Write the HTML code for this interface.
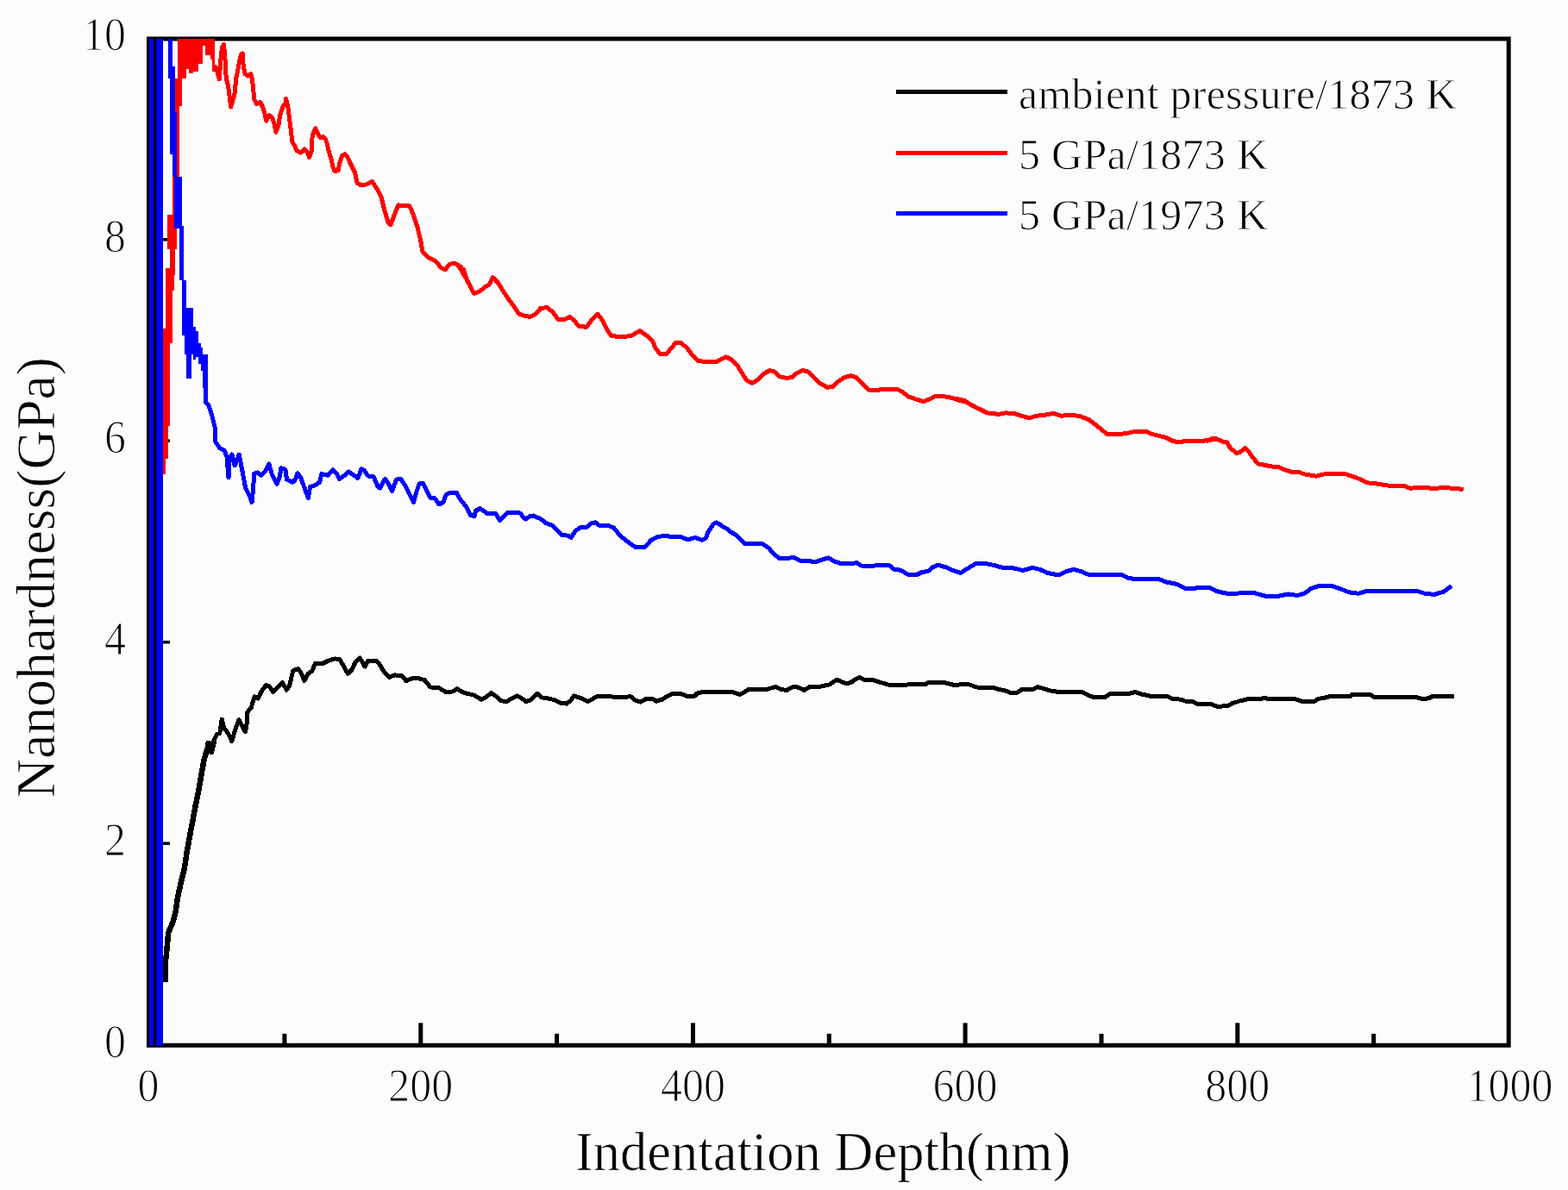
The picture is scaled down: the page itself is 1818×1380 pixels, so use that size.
<!DOCTYPE html>
<html><head><meta charset="utf-8"><style>
html,body{margin:0;padding:0;background:#fcfcfd;overflow:hidden;width:1818px;height:1380px;}
svg{display:block;}
text{font-family:"Liberation Serif","Times New Roman",serif;fill:#000;}
</style></head><body>
<svg width="1818" height="1380" viewBox="0 0 1818 1380">
<defs><clipPath id="pc"><rect x="172.5" y="44.6" width="1576.7" height="1167.9"/></clipPath></defs>
<rect width="1818" height="1380" fill="#fcfcfd"/>
<g stroke="#000" stroke-width="5">
<path d="M172.5,1212.3 L172.5,45.0 L1749.2,45.0 L1749.2,1212.3 Z" fill="none" stroke-linejoin="miter"/>
<line x1="329.9" y1="1212.3" x2="329.9" y2="1198.8"/><line x1="487.8" y1="1212.3" x2="487.8" y2="1186.3"/><line x1="645.6" y1="1212.3" x2="645.6" y2="1198.8"/><line x1="803.5" y1="1212.3" x2="803.5" y2="1186.3"/><line x1="961.3" y1="1212.3" x2="961.3" y2="1198.8"/><line x1="1119.1" y1="1212.3" x2="1119.1" y2="1186.3"/><line x1="1277.0" y1="1212.3" x2="1277.0" y2="1198.8"/><line x1="1434.8" y1="1212.3" x2="1434.8" y2="1186.3"/><line x1="1592.7" y1="1212.3" x2="1592.7" y2="1198.8"/><line x1="172.5" y1="1094.9" x2="184.5" y2="1094.9" stroke-width="3.5"/><line x1="172.5" y1="978.1" x2="197.0" y2="978.1" stroke-width="3.5"/><line x1="172.5" y1="861.4" x2="184.5" y2="861.4" stroke-width="3.5"/><line x1="172.5" y1="744.7" x2="197.0" y2="744.7" stroke-width="3.5"/><line x1="172.5" y1="627.9" x2="184.5" y2="627.9" stroke-width="3.5"/><line x1="172.5" y1="511.2" x2="197.0" y2="511.2" stroke-width="3.5"/><line x1="172.5" y1="394.5" x2="184.5" y2="394.5" stroke-width="3.5"/><line x1="172.5" y1="277.8" x2="197.0" y2="277.8" stroke-width="3.5"/><line x1="172.5" y1="161.0" x2="184.5" y2="161.0" stroke-width="3.5"/>
</g>
<g clip-path="url(#pc)" shape-rendering="crispEdges">
<g fill="none" stroke-linejoin="round" stroke-linecap="butt">
<path d="M191.5,1138.7 L191.5,1116.5 L192.6,1110.0 L195.2,1081.7 L200.7,1068.7 L203.9,1055.7 L206.1,1040.4 L210.4,1020.9 L213.7,1007.8 L217.0,986.1 L220.2,968.7 L223.5,951.3 L226.7,933.9 L230.0,918.7 L233.3,899.1 L236.5,881.7 L240.9,866.5 L241.6,862.1 L244.9,872.0 L248.2,858.8 L251.5,851.4 L254.8,850.6 L257.2,834.1 L259.7,844.0 L264.7,850.6 L268.8,859.6 L272.1,848.1 L277.0,834.9 L280.3,840.7 L284.5,848.9 L286.1,839.0 L286.9,825.8 L291.1,820.9 L295.2,807.7 L299.3,810.1 L302.6,802.7 L308.4,794.5 L312.5,796.1 L316.6,802.7 L320.8,798.6 L327.4,791.2 L332.3,800.2 L335.6,795.3 L339.7,778.0 L345.5,775.5 L348.8,779.6 L352.9,789.5 L357.1,781.3 L362.0,778.0 L365.3,769.7 L373.6,769.7 L380.2,766.4 L388.4,763.9 L394.2,764.8 L400.0,775.5 L403.3,781.3 L408.2,776.3 L411.5,768.9 L417.3,763.1 L423.1,773.0 L426.4,766.4 L436.3,766.4 L439.6,769.7 L444.5,778.0 L451.1,785.4 L457.7,782.9 L466.0,783.7 L470.9,789.5 L477.5,787.0 L484.1,786.2 L492.4,788.7 L499.0,796.9 L508.9,797.8 L517.1,802.7 L525.4,801.9 L530.0,798.6 L534.9,802.1 L541.5,804.2 L549.8,806.2 L558.0,811.2 L563.0,808.7 L569.6,803.7 L574.5,807.0 L581.1,812.8 L587.7,813.6 L592.7,810.3 L599.3,807.0 L604.2,809.5 L610.0,813.6 L614.9,812.0 L619.1,807.9 L623.2,804.2 L627.3,808.7 L637.2,810.3 L643.8,812.0 L650.4,815.3 L657.0,816.1 L662.0,812.0 L665.3,807.0 L670.2,808.7 L675.2,810.3 L681.8,813.6 L687.5,810.3 L691.7,807.9 L703.2,807.9 L723.0,808.2 L731.3,807.9 L736.2,812.0 L742.8,814.1 L749.4,810.3 L756.0,810.3 L761.0,813.1 L767.6,811.2 L772.5,807.9 L779.1,804.6 L789.0,804.2 L797.3,807.9 L805.5,807.0 L808.8,803.7 L817.1,802.1 L825.0,802.9 L826.6,802.1 L833.2,802.6 L849.7,802.6 L858.0,805.4 L862.9,802.6 L867.9,799.3 L882.7,799.3 L889.3,799.3 L899.2,796.6 L905.8,799.6 L912.4,800.4 L919.0,796.6 L925.6,797.1 L932.2,800.4 L938.8,796.6 L952.0,796.0 L961.9,793.8 L966.9,790.5 L970.2,788.1 L975.1,790.5 L981.7,793.0 L986.7,791.4 L991.6,788.1 L996.6,785.6 L1001.5,788.1 L1011.4,788.4 L1018.0,790.5 L1026.3,793.0 L1031.2,794.3 L1044.4,794.7 L1054.3,793.8 L1072.5,793.8 L1077.4,791.0 L1092.3,791.0 L1100.5,793.0 L1107.1,794.7 L1113.7,793.8 L1120.0,793.8 L1123.3,793.8 L1133.2,797.1 L1151.3,797.1 L1157.9,799.6 L1164.5,800.4 L1171.1,803.2 L1179.4,803.2 L1184.3,799.6 L1197.5,799.6 L1203.3,796.6 L1210.7,798.8 L1217.3,800.9 L1230.5,802.9 L1240.4,802.6 L1255.3,802.9 L1260.2,805.4 L1266.8,808.2 L1281.7,808.2 L1286.6,804.9 L1306.4,804.9 L1316.3,802.6 L1322.9,804.9 L1329.5,806.2 L1336.1,807.9 L1354.3,807.9 L1359.2,810.3 L1369.1,811.2 L1375.7,813.6 L1382.3,813.6 L1388.9,816.4 L1403.8,816.4 L1410.4,819.1 L1415.0,819.1 L1423.2,818.7 L1428.2,815.9 L1436.4,813.2 L1448.0,810.4 L1467.8,809.9 L1472.7,810.9 L1500.8,810.4 L1509.0,813.2 L1523.9,813.2 L1528.8,810.4 L1537.9,808.8 L1542.0,807.6 L1565.1,807.6 L1568.4,805.0 L1588.2,805.0 L1593.2,808.3 L1641.0,808.3 L1650.9,810.9 L1657.5,809.3 L1660.8,807.6 L1686.4,808.0" stroke="#000" stroke-width="5"/>
<path d="M191.5,1138.7 L191.5,1116.5 L192.6,1110.0 L195.2,1081.7 L200.7,1068.7 L203.9,1055.7 L206.1,1040.4 L210.4,1020.9 L213.7,1007.8 L217.0,986.1 L220.2,968.7 L223.5,951.3 L226.7,933.9 L230.0,918.7 L233.3,899.1 L236.5,881.7 L240.9,866.5 L241.6,862.1 L244.9,872.0 L248.2,858.8" stroke="#000" stroke-width="6.5"/>
<path d="M247.5,80.6 L250.2,77.7 L254.2,91.8 L255.9,69.0 L257.5,54.5 L259.6,51.6 L261.1,70.4 L262.2,90.7 L264.7,100.1 L267.6,124.1 L272.0,108.8 L273.8,90.7 L275.9,80.6 L277.8,70.4 L279.9,62.5 L281.1,62.0 L282.2,77.2 L284.3,85.9 L287.6,88.0 L290.9,85.9 L292.5,92.4 L293.6,102.2 L294.7,115.2 L297.4,120.7 L301.7,118.5 L304.5,123.9 L307.2,132.6 L308.8,140.2 L312.1,133.7 L315.9,137.0 L318.6,145.7 L319.7,153.3 L322.9,145.7 L324.6,133.7 L327.8,123.9 L331.1,119.6 L331.6,114.1 L334.3,126.1 L335.4,137.0 L336.5,144.6 L337.6,153.3 L338.7,164.1 L342.0,169.6 L344.1,175.0 L348.5,177.2 L352.8,172.8 L356.1,176.1 L358.8,182.6 L361.0,176.1 L362.1,158.7 L363.7,153.3 L365.9,148.9 L368.6,154.3 L371.3,159.8 L374.6,158.7 L377.3,160.9 L379.5,167.4 L381.1,175.0 L383.8,183.7 L386.0,193.5 L388.2,198.4 L392.0,197.8 L394.1,188.0 L396.8,180.4 L399.6,178.8 L402.8,181.5 L405.0,187.0 L408.3,193.5 L411.5,200.0 L413.9,211.7 L418.3,215.0 L424.8,213.9 L431.3,210.7 L436.7,218.3 L442.2,229.1 L445.4,242.2 L449.8,257.4 L453.0,260.7 L457.4,248.7 L461.7,237.8 L466.1,238.9 L474.8,238.9 L479.1,248.7 L483.5,261.7 L487.8,279.1 L490.0,292.2 L496.5,298.7 L505.2,303.0 L511.7,310.7 L516.1,312.8 L521.5,306.3 L527.0,305.2 L534.6,309.6 L538.9,320.4 L531.1,307.0 L537.6,313.0 L542.0,326.1 L549.6,340.2 L556.1,338.0 L562.6,332.6 L567.0,330.4 L571.3,321.7 L577.8,328.3 L584.3,339.1 L590.9,348.9 L595.2,354.3 L601.7,364.1 L608.3,366.3 L614.8,367.4 L621.3,364.1 L626.7,357.6 L634.3,356.5 L640.9,362.0 L647.4,370.7 L653.9,370.7 L660.4,367.4 L664.8,370.7 L671.3,378.3 L680.0,379.3 L686.5,370.7 L693.0,364.1 L698.5,371.7 L703.9,382.6 L708.3,389.1 L714.8,390.2 L725.7,390.2 L732.2,389.1 L742.0,383.7 L749.6,389.1 L756.1,394.6 L760.4,404.3 L765.9,410.9 L772.4,410.9 L777.8,404.3 L783.3,397.8 L789.8,397.8 L796.3,403.3 L802.8,412.0 L809.3,418.5 L819.1,419.6 L828.9,419.6 L820.0,419.3 L830.9,419.3 L837.4,416.1 L841.7,413.9 L848.3,417.2 L854.8,423.7 L860.2,432.4 L865.7,441.1 L872.2,444.3 L877.6,441.1 L885.2,433.5 L892.8,429.6 L898.3,431.3 L903.7,436.7 L911.3,438.3 L917.8,437.8 L924.3,432.4 L930.9,429.6 L937.4,431.3 L943.9,437.8 L950.4,444.3 L959.1,449.1 L965.7,448.7 L972.2,442.2 L978.7,437.8 L986.3,435.7 L992.8,437.8 L999.3,444.3 L1007.0,452.0 L1015.7,452.4 L1026.5,451.3 L1039.6,451.3 L1046.1,454.1 L1052.6,459.6 L1061.3,462.8 L1071.1,465.7 L1077.6,462.8 L1084.1,459.6 L1096.1,460.0 L1104.8,461.7 L1111.3,463.9 L1120.0,466.1 L1110.0,462.6 L1118.7,464.8 L1125.2,469.1 L1133.9,473.5 L1144.8,478.9 L1157.8,480.4 L1165.4,478.9 L1175.2,479.3 L1183.9,482.2 L1193.7,484.8 L1201.3,482.2 L1210.0,481.5 L1222.0,479.3 L1229.6,482.2 L1240.4,481.5 L1251.3,482.2 L1262.2,486.5 L1270.9,493.0 L1277.4,498.5 L1283.9,503.5 L1294.8,503.5 L1305.7,502.8 L1314.3,500.7 L1329.6,500.7 L1336.1,503.5 L1344.8,505.7 L1351.3,507.2 L1360.0,511.5 L1367.6,513.0 L1373.0,511.5 L1392.6,511.5 L1401.3,510.4 L1405.7,508.7 L1410.0,508.7 L1400.0,511.3 L1404.3,509.1 L1410.9,509.1 L1417.4,512.0 L1422.8,513.0 L1426.1,519.1 L1433.7,525.7 L1438.0,524.3 L1443.5,519.6 L1447.8,523.9 L1453.3,531.5 L1458.7,538.0 L1465.2,539.1 L1473.9,540.9 L1482.6,541.7 L1489.1,544.6 L1497.8,547.4 L1506.5,547.8 L1513.0,550.0 L1526.1,552.2 L1534.8,550.0 L1547.8,549.6 L1560.9,550.0 L1567.4,552.2 L1576.1,555.4 L1584.8,559.8 L1595.7,560.9 L1608.7,563.0 L1628.3,563.5 L1634.8,566.3 L1647.8,565.2 L1660.9,566.3 L1676.1,565.7 L1684.8,566.3 L1696.7,567.4" stroke="#f00" stroke-width="5"/>
</g>
<path d="M205.7,44.6 L248.8,44.6 L248.8,82.8 L246.2,82.8 L246.2,69.0 L243.7,69.0 L243.7,63.9 L237.9,63.9 L237.9,53.0 L235.0,53.0 L235.0,74.4 L229.9,74.4 L229.9,82.8 L224.1,82.8 L224.1,85.0 L219.0,85.0 L219.0,80.2 L216.2,80.2 L216.2,90.7 L210.7,90.7 L210.7,122.6 L208.2,122.6 L208.2,205.4 L203.1,205.4 L203.1,248.8 L205.3,248.8 L205.3,288.7 L203.1,288.7 L203.1,311.2 L202.4,320.0 L202.4,337.4 L199.8,337.4 L199.8,398.0 L197.2,398.0 L197.2,494.0 L194.6,494.0 L194.6,532.0 L192.0,532.0 L192.0,549.6 L189.3,549.6 L189.3,381.0 L192.0,381.0 L192.0,311.2 L197.3,311.2 L197.3,288.7 L194.4,288.7 L194.4,248.8 L200.2,248.8 L200.2,205.4 L205.3,205.4 L205.3,144.5 L202.4,144.5 L202.4,90.7 L205.7,90.7 Z" fill="#f00"/>
<path d="M238.0,445.0 L238.0,466.0 L241.7,470.0 L245.5,481.0 L249.0,495.0 L249.5,512.0 L255.0,520.0 L260.0,522.0 L263.0,530.0 L265.0,554.0 L265.0,535.0 L269.0,527.0 L272.0,540.0 L273.1,538.0 L277.2,527.2 L279.7,539.6 L282.2,552.8 L284.7,566.0 L290.4,577.6 L292.1,582.5 L293.7,566.0 L294.6,549.5 L298.7,547.9 L302.8,551.2 L307.8,546.2 L311.9,538.0 L315.2,549.5 L321.0,561.1 L324.3,552.8 L325.9,542.9 L330.9,544.6 L332.5,556.1 L339.1,559.4 L342.4,556.1 L344.9,548.7 L349.0,554.5 L353.1,566.0 L357.3,577.6 L359.7,564.4 L365.5,562.7 L370.5,559.4 L372.9,549.5 L380.4,551.2 L386.1,544.6 L390.3,549.5 L393.6,555.3 L398.5,552.0 L404.3,547.0 L410.1,551.2 L415.0,554.5 L419.1,543.7 L422.4,545.4 L426.6,552.0 L433.2,552.8 L438.1,564.4 L440.6,566.0 L446.4,555.3 L450.5,561.1 L454.6,569.3 L459.6,556.1 L464.5,555.3 L469.5,562.7 L474.4,572.6 L479.4,582.5 L482.7,571.0 L486.0,561.1 L490.1,560.2 L494.2,567.7 L499.2,577.6 L504.1,577.6 L509.1,585.0 L514.0,582.5 L517.3,573.4 L522.3,571.0 L528.9,571.0 L533.8,579.2 L540.4,587.5 L545.4,597.4 L550.0,599.0 L551.6,592.2 L556.5,589.7 L560.6,592.2 L564.8,595.5 L574.7,595.5 L579.6,603.7 L584.6,598.8 L587.9,594.7 L602.7,595.0 L609.3,602.1 L614.3,598.8 L618.4,598.0 L627.5,602.1 L632.4,606.2 L640.7,609.5 L647.3,616.1 L652.2,620.7 L658.8,621.1 L662.1,623.5 L667.1,616.1 L672.0,612.0 L680.3,611.2 L685.2,607.0 L690.2,605.9 L695.1,609.5 L705.0,609.5 L711.6,612.0 L718.2,620.2 L724.8,626.0 L731.4,631.0 L736.4,634.3 L747.9,634.3 L754.5,626.8 L761.1,623.0 L771.0,621.1 L779.3,622.7 L789.2,622.4 L797.4,626.0 L805.7,623.5 L813.9,626.3 L818.9,623.5 L820.5,617.8 L827.1,607.9 L830.4,605.9 L835.4,608.7 L840.0,612.0 L843.2,613.1 L846.5,616.4 L854.8,621.4 L863.0,630.4 L871.3,630.4 L884.5,630.9 L891.1,635.4 L897.7,642.8 L904.3,647.8 L912.5,647.8 L919.9,646.1 L929.0,650.7 L938.9,650.7 L945.5,651.9 L952.1,649.4 L960.4,646.9 L967.0,650.7 L975.2,653.5 L986.8,653.5 L993.4,652.7 L998.3,656.0 L1008.2,656.3 L1019.8,655.7 L1031.3,655.7 L1036.3,660.1 L1044.5,661.3 L1052.8,666.2 L1062.7,666.7 L1069.3,663.4 L1075.9,662.6 L1080.8,658.0 L1087.4,655.2 L1097.3,658.0 L1103.9,661.0 L1113.8,664.6 L1120.4,660.1 L1130.0,654.4 L1131.7,653.5 L1142.6,653.5 L1153.5,655.7 L1162.2,658.3 L1175.2,658.9 L1186.1,661.5 L1197.0,658.3 L1205.7,660.4 L1214.3,664.3 L1227.4,667.0 L1236.1,662.6 L1244.8,660.4 L1253.5,662.6 L1262.2,666.5 L1275.2,667.0 L1294.8,666.5 L1300.0,666.3 L1308.8,670.7 L1322.0,671.8 L1344.0,671.8 L1352.8,675.1 L1363.8,677.3 L1374.8,682.8 L1388.0,681.9 L1403.4,681.9 L1412.2,686.1 L1423.2,688.3 L1454.0,687.6 L1467.2,691.2 L1482.6,691.2 L1493.6,689.0 L1504.6,690.5 L1513.4,687.6 L1520.0,682.4 L1528.8,679.5 L1544.2,679.5 L1553.0,682.4 L1564.0,686.8 L1575.0,688.3 L1586.0,685.0 L1619.0,685.0 L1643.2,685.4 L1652.0,688.3 L1663.0,689.4 L1674.0,686.1 L1682.8,679.5" stroke="#00f" stroke-width="5" fill="none" stroke-linejoin="round"/>
<path d="M194.8,44.6 L199.9,44.6 L199.9,77.3 L202.8,77.3 L202.8,130.0 L205.3,130.0 L205.3,205.4 L210.8,205.4 L210.8,262.0 L213.3,262.0 L213.3,325.0 L216.3,325.0 L216.3,356.5 L211.0,356.5 L211.0,325.0 L208.2,325.0 L208.2,264.8 L202.4,264.8 L202.4,205.4 L200.2,205.4 L200.2,179.3 L197.3,179.3 L197.0,90.7 L194.8,90.7 Z" fill="#00f"/>
<path d="M211.0,340.0 L216.2,340.0 L216.2,357.1 L224.1,357.1 L224.1,379.0 L226.9,379.0 L226.9,384.3 L229.7,384.3 L229.7,398.2 L232.5,398.2 L232.5,403.4 L235.3,403.4 L235.3,411.4 L240.9,411.4 L240.9,450.0 L235.3,450.0 L235.3,430.0 L232.5,430.0 L232.5,421.7 L230.1,421.7 L230.1,413.8 L226.9,413.8 L226.9,416.6 L224.1,416.6 L224.1,411.0 L221.7,411.0 L221.7,438.5 L216.2,438.5 L216.2,411.0 L213.8,411.0 L213.8,389.4 L211.0,389.4 Z" fill="#00f"/>
<rect x="173" y="44.6" width="5" height="1168" fill="#00f"/>
<rect x="178" y="44.6" width="3" height="1168" fill="#000"/>
<rect x="181" y="44.6" width="8" height="1168" fill="#00f"/>
</g>
<g font-size="54" stroke="#fcfcfd" stroke-width="1.2">
<text x="146" y="1225.7" text-anchor="end" textLength="25" lengthAdjust="spacingAndGlyphs">0</text><text x="146" y="992.2" text-anchor="end" textLength="25" lengthAdjust="spacingAndGlyphs">2</text><text x="146" y="758.8" text-anchor="end" textLength="25" lengthAdjust="spacingAndGlyphs">4</text><text x="146" y="525.3" text-anchor="end" textLength="25" lengthAdjust="spacingAndGlyphs">6</text><text x="146" y="291.9" text-anchor="end" textLength="25" lengthAdjust="spacingAndGlyphs">8</text><text x="146" y="58.4" text-anchor="end" textLength="50" lengthAdjust="spacingAndGlyphs">10</text>
<text x="172.1" y="1277" text-anchor="middle" textLength="25" lengthAdjust="spacingAndGlyphs">0</text><text x="487.8" y="1277" text-anchor="middle" textLength="75" lengthAdjust="spacingAndGlyphs">200</text><text x="803.5" y="1277" text-anchor="middle" textLength="75" lengthAdjust="spacingAndGlyphs">400</text><text x="1119.1" y="1277" text-anchor="middle" textLength="75" lengthAdjust="spacingAndGlyphs">600</text><text x="1434.8" y="1277" text-anchor="middle" textLength="75" lengthAdjust="spacingAndGlyphs">800</text><text x="1750.5" y="1277" text-anchor="middle" textLength="100" lengthAdjust="spacingAndGlyphs">1000</text>
</g>
<text x="954.3" y="1356.5" font-size="62.5" text-anchor="middle" stroke="#fcfcfd" stroke-width="0.7">Indentation Depth(nm)</text>
<text transform="translate(63.3,669.8) rotate(-90)" font-size="63.5" text-anchor="middle" stroke="#fcfcfd" stroke-width="0.7">Nanohardness(GPa)</text>
<g stroke-width="5" shape-rendering="crispEdges">
<line x1="1038.5" y1="106.6" x2="1168.2" y2="106.6" stroke="#000"/>
<line x1="1038.5" y1="177" x2="1168.2" y2="177" stroke="#f00"/>
<line x1="1038.5" y1="247.9" x2="1168.2" y2="247.9" stroke="#00f"/>
</g>
<g font-size="50" stroke="#fcfcfd" stroke-width="0.9">
<text x="1181" y="126.2" textLength="508" lengthAdjust="spacing">ambient pressure/1873 K</text>
<text x="1181" y="195.5" textLength="289" lengthAdjust="spacing">5 GPa/1873 K</text>
<text x="1181" y="265.5" textLength="289" lengthAdjust="spacing">5 GPa/1973 K</text>
</g>
</svg>
</body></html>
